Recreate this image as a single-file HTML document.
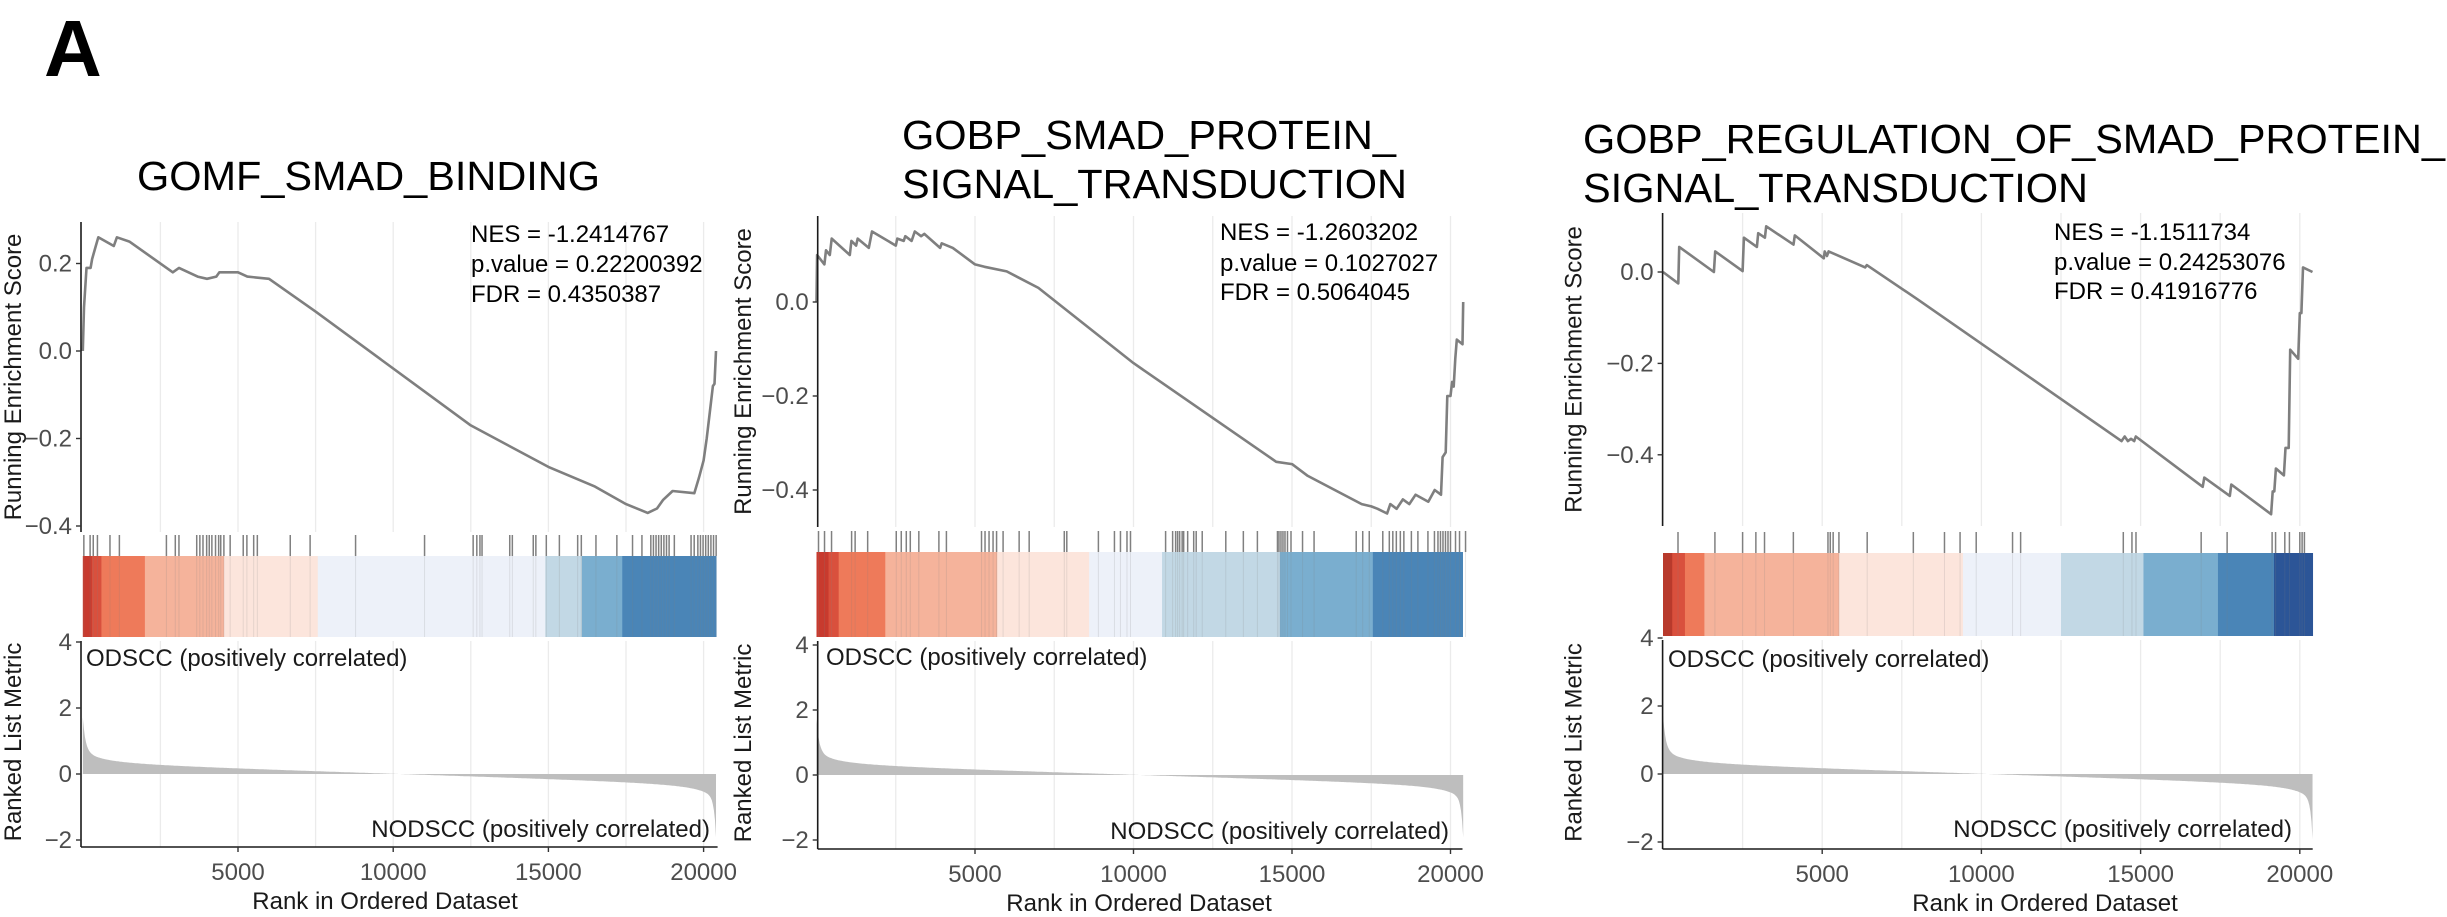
<!DOCTYPE html>
<html><head><meta charset="utf-8">
<style>
html,body{margin:0;padding:0;background:#fff;}
svg{display:block;}
text{font-family:"Liberation Sans",Arial,sans-serif;}
</style></head>
<body>
<svg id="s" width="2447" height="917" xmlns="http://www.w3.org/2000/svg">
<text x="44" y="76" font-size="80" font-weight="bold" fill="#000">A</text>
<text x="137" y="190" font-size="41" textLength="463" lengthAdjust="spacingAndGlyphs">GOMF_SMAD_BINDING</text>
<text x="902" y="149" font-size="41" textLength="494" lengthAdjust="spacingAndGlyphs">GOBP_SMAD_PROTEIN_</text>
<text x="902" y="198" font-size="41" textLength="505" lengthAdjust="spacingAndGlyphs">SIGNAL_TRANSDUCTION</text>
<text x="1583" y="153" font-size="41" textLength="862" lengthAdjust="spacingAndGlyphs">GOBP_REGULATION_OF_SMAD_PROTEIN_</text>
<text x="1583" y="202" font-size="41" textLength="505" lengthAdjust="spacingAndGlyphs">SIGNAL_TRANSDUCTION</text>
</svg>
<script>
var S=document.getElementById('s'),NS='http://www.w3.org/2000/svg';
function el(t,a,txt){var e=document.createElementNS(NS,t);for(var k in a)e.setAttribute(k,a[k]);if(txt!=null)e.textContent=txt;S.appendChild(e);return e;}
var N=20400;
var P=[
{ax:81,x0:82.8,k:0.03104,xr:717.6,esy0:351,esk:437.5,top:222,bot:532,tt:535,bt:556,bb:637,ry0:774,rk:33,rb:847,
 ylab:13,tlx:73,esT:[0.2,0,-0.2,-0.4],nesx:471,nesy:[242,272,302],
 nes:["NES = -1.2414767","p.value = 0.22200392","FDR = 0.4350387"],
 odx:86,odb:666,ndx:710,ndb:837,xl:385,
 es:[[0,0],[40,0.1],[120,0.19],[250,0.19],[300,0.21],[420,0.24],[500,0.26],[1000,0.24],[1100,0.26],[1500,0.25],[2700,0.19],[2900,0.18],[3100,0.19],[3700,0.17],[4000,0.165],[4300,0.17],[4400,0.18],[4700,0.18],[5000,0.18],[5300,0.17],[6000,0.165],[7500,0.09],[12500,-0.17],[15000,-0.265],[16500,-0.31],[17500,-0.35],[18200,-0.37],[18500,-0.36],[18700,-0.34],[19000,-0.32],[19700,-0.325],[19850,-0.29],[20000,-0.25],[20100,-0.2],[20200,-0.14],[20300,-0.08],[20350,-0.075],[20400,0]],
 bars:[[0,290,'#c83a2e'],[290,600,'#d9503d'],[600,2000,'#ee7a5a'],[2000,4550,'#f5b39b'],[4550,7570,'#fce5dc'],[7570,14900,'#edf1f9'],[14900,16080,'#c2d8e5'],[16080,17380,'#7aaecf'],[17380,20400,'#4a85b7']],
 tk:{f:1.912,o:0,z0:158,z5:455,px:[160,172,178,186,210,228,318,335,342,376,382,388,395,400,405,412,418,422,428,440,465,472,485,492,555,593,680,812,905,912,918,922,975,980,1020,1025,1045,1070,1105,1112,1140,1180,1210,1228,1245,1250,1255,1260,1265,1270,1275,1280,1290,1322,1328,1335,1340,1345,1350,1355,1360,1365,1370]}},
{ax:817.7,x0:816.5,k:0.0317,xr:1462.5,esy0:302,esk:470,top:216,bot:527,tt:531,bt:552,bb:637,ry0:775,rk:32.5,rb:849,
 ylab:743,tlx:810,esT:[0,-0.2,-0.4],nesx:1220,nesy:[240,271,300],
 nes:["NES = -1.2603202","p.value = 0.1027027","FDR = 0.5064045"],
 odx:826,odb:665,ndx:1449,ndb:839,xl:1139,
 es:[[0,0],[20,0.1],[250,0.08],[300,0.11],[420,0.1],[480,0.135],[1050,0.1],[1100,0.13],[1250,0.12],[1300,0.135],[1650,0.115],[1750,0.15],[2500,0.12],[2550,0.135],[2750,0.13],[2800,0.14],[3000,0.13],[3100,0.15],[3300,0.14],[3400,0.145],[3900,0.115],[3950,0.125],[4300,0.115],[5000,0.08],[5300,0.075],[6000,0.065],[7000,0.03],[10000,-0.13],[14500,-0.34],[15000,-0.345],[15500,-0.37],[17200,-0.43],[17500,-0.435],[17700,-0.44],[18000,-0.45],[18100,-0.43],[18300,-0.44],[18500,-0.42],[18700,-0.43],[18900,-0.41],[19300,-0.425],[19500,-0.40],[19700,-0.41],[19750,-0.33],[19850,-0.32],[19900,-0.2],[20000,-0.2],[20050,-0.17],[20100,-0.18],[20150,-0.12],[20200,-0.08],[20380,-0.09],[20400,0]],
 bars:[[0,380,'#c83a2e'],[380,700,'#d9503d'],[700,2170,'#ee7a5a'],[2170,5700,'#f5b39b'],[5700,8600,'#fce5dc'],[8600,10900,'#edf1f9'],[10900,14620,'#c2d8e5'],[14620,17550,'#7aaecf'],[17550,20400,'#4a85b7']],
 tk:{f:2.01,o:760,z0:116,z5:432,px:[120,132,146,186,193,218,275,285,295,303,320,360,375,445,452,460,468,475,488,520,540,610,615,678,710,722,735,742,812,826,832,836,840,845,848,856,868,873,885,932,967,995,1035,1038,1042,1046,1050,1055,1062,1085,1108,1192,1205,1218,1245,1258,1265,1272,1280,1287,1302,1315,1335,1348,1355,1360,1365,1370,1375,1380,1390,1398,1410]}},
{ax:1662.6,x0:1663,k:0.03184,xr:2312.7,esy0:272,esk:457,top:213,bot:526,tt:532,bt:553,bb:636,ry0:774,rk:34,rb:849,
 ylab:1573.5,tlx:1654,esT:[0,-0.2,-0.4],nesx:2054,nesy:[240,270,299],
 nes:["NES = -1.1511734","p.value = 0.24253076","FDR = 0.41916776"],
 odx:1668,odb:667,ndx:2292,ndb:837,xl:2045,
 es:[[0,0],[480,-0.025],[510,0.055],[1600,0.0],[1640,0.045],[2500,0.002],[2540,0.075],[2950,0.055],[2990,0.085],[3200,0.075],[3240,0.1],[4100,0.06],[4140,0.08],[5050,0.03],[5080,0.045],[5150,0.035],[5200,0.045],[6350,0.01],[6400,0.015],[8000,-0.06],[14400,-0.37],[14500,-0.36],[14600,-0.37],[14700,-0.365],[14800,-0.37],[14850,-0.36],[16950,-0.47],[17000,-0.45],[17800,-0.49],[17850,-0.465],[19100,-0.53],[19150,-0.48],[19200,-0.48],[19250,-0.43],[19500,-0.445],[19550,-0.385],[19650,-0.385],[19700,-0.17],[19950,-0.19],[20000,-0.09],[20050,-0.09],[20100,0.01],[20400,0]],
 bars:[[0,290,'#b83a2c'],[290,690,'#d9503d'],[690,1300,'#ee7a5a'],[1300,5530,'#f5b39b'],[5530,9420,'#fce5dc'],[9420,12500,'#edf1f9'],[12500,15090,'#c2d8e5'],[15090,17430,'#7aaecf'],[17430,19190,'#4a85b7'],[19190,20400,'#2c5597']],
 tk:{f:1.729,o:1540,z0:212,z5:488,px:[238,302,350,373,388,438,498,502,507,517,566,646,700,727,755,818,832,1010,1025,1032,1145,1190,1268,1274,1290,1298,1316,1320,1324]}}
];
function metric(r){var f=r/N;return 0.56*(0.5-f)+0.011*(1/(f+0.02)-1/(1.02-f))+0.9*Math.exp(-f/0.004)-1.1*Math.exp(-(1-f)/0.003);}
P.forEach(function(p){
  var X=function(r){return p.x0+r*p.k;};
  // gridlines
  for(var g=2500;g<=20000;g+=2500){var gx=X(g);
    el('line',{x1:gx,x2:gx,y1:p.top,y2:p.bot,stroke:'#ebebeb','stroke-width':1.3});
    el('line',{x1:gx,x2:gx,y1:p.bb+4,y2:p.rb,stroke:'#ebebeb','stroke-width':1.3});}
  // bars
  p.bars.forEach(function(b){var a=X(b[0]),c=Math.min(X(b[1]),p.xr);el('rect',{x:a,y:p.bt,width:c-a+0.5,height:p.bb-p.bt,fill:b[2]});});
  // hit ticks
  p.tk.px.forEach(function(z){var r=(z-p.tk.z0)/(p.tk.z5-p.tk.z0)*5000;var x=X(r);
    el('line',{x1:x,x2:x,y1:p.tt,y2:p.bt,stroke:'#808080','stroke-width':1.5});
    el('line',{x1:x,x2:x,y1:p.bt,y2:p.bb,stroke:'#808080','stroke-width':1,'stroke-opacity':0.18});});
  // ES curve
  var d='';p.es.forEach(function(q,i){d+=(i?'L':'M')+X(q[0]).toFixed(1)+' '+(p.esy0-q[1]*p.esk).toFixed(1);});
  el('path',{d:d,fill:'none',stroke:'#7f7f7f','stroke-width':2.6,'stroke-linejoin':'round'});
  // ranked area
  var a='M'+X(0)+' '+p.ry0;for(var i=0;i<=600;i++){var r=N*i/600;a+='L'+X(r).toFixed(1)+' '+(p.ry0-metric(r)*p.rk).toFixed(1);}a+='L'+X(N)+' '+p.ry0+'Z';
  el('path',{d:a,fill:'#bebebe'});
  // axes
  el('line',{x1:p.ax,x2:p.ax,y1:p.top,y2:p.bot,stroke:'#1a1a1a','stroke-width':1.6});
  el('line',{x1:p.ax,x2:p.ax,y1:p.bb+4,y2:p.rb,stroke:'#1a1a1a','stroke-width':1.6});
  el('line',{x1:p.ax,x2:p.xr,y1:p.rb,y2:p.rb,stroke:'#1a1a1a','stroke-width':1.6});
  // ES ticks
  p.esT.forEach(function(v){var y=p.esy0-v*p.esk;el('line',{x1:p.ax-5,x2:p.ax,y1:y,y2:y,stroke:'#333','stroke-width':1.4});
    el('text',{x:p.ax-9,y:y+8,'font-size':24,fill:'#4d4d4d','text-anchor':'end'},(v<0?'\u2212':'')+Math.abs(v).toFixed(1));});
  [4,2,0,-2].forEach(function(v){var y=p.ry0-v*p.rk;el('line',{x1:p.ax-5,x2:p.ax,y1:y,y2:y,stroke:'#333','stroke-width':1.4});
    el('text',{x:p.ax-9,y:y+8,'font-size':24,fill:'#4d4d4d','text-anchor':'end'},(v<0?'\u2212':'')+Math.abs(v));});
  [5000,10000,15000,20000].forEach(function(r){var x=X(r);el('line',{x1:x,x2:x,y1:p.rb,y2:p.rb+5,stroke:'#333','stroke-width':1.4});
    el('text',{x:x,y:p.rb+33,'font-size':24,fill:'#4d4d4d','text-anchor':'middle'},String(r));});
  el('text',{x:p.xl,y:p.rb+62,'font-size':24,fill:'#1a1a1a','text-anchor':'middle'},'Rank in Ordered Dataset');
  var cy=(p.top+p.bot)/2;
  el('text',{x:0,y:0,'font-size':24,fill:'#1a1a1a','text-anchor':'middle',transform:'translate('+(p.ylab+8)+','+cy+') rotate(-90)'},'Running Enrichment Score');
  var ry=(p.bb+p.rb)/2;
  el('text',{x:0,y:0,'font-size':24,fill:'#1a1a1a','text-anchor':'middle',transform:'translate('+(p.ylab+8)+','+ry+') rotate(-90)'},'Ranked List Metric');
  p.nes.forEach(function(t,i){el('text',{x:p.nesx,y:p.nesy[i],'font-size':24,fill:'#000'},t);});
  el('text',{x:p.odx,y:p.odb,'font-size':24,fill:'#1a1a1a'},'ODSCC (positively correlated)');
  el('text',{x:p.ndx,y:p.ndb,'font-size':24,fill:'#1a1a1a','text-anchor':'end'},'NODSCC (positively correlated)');
});
</script>
</body></html>
